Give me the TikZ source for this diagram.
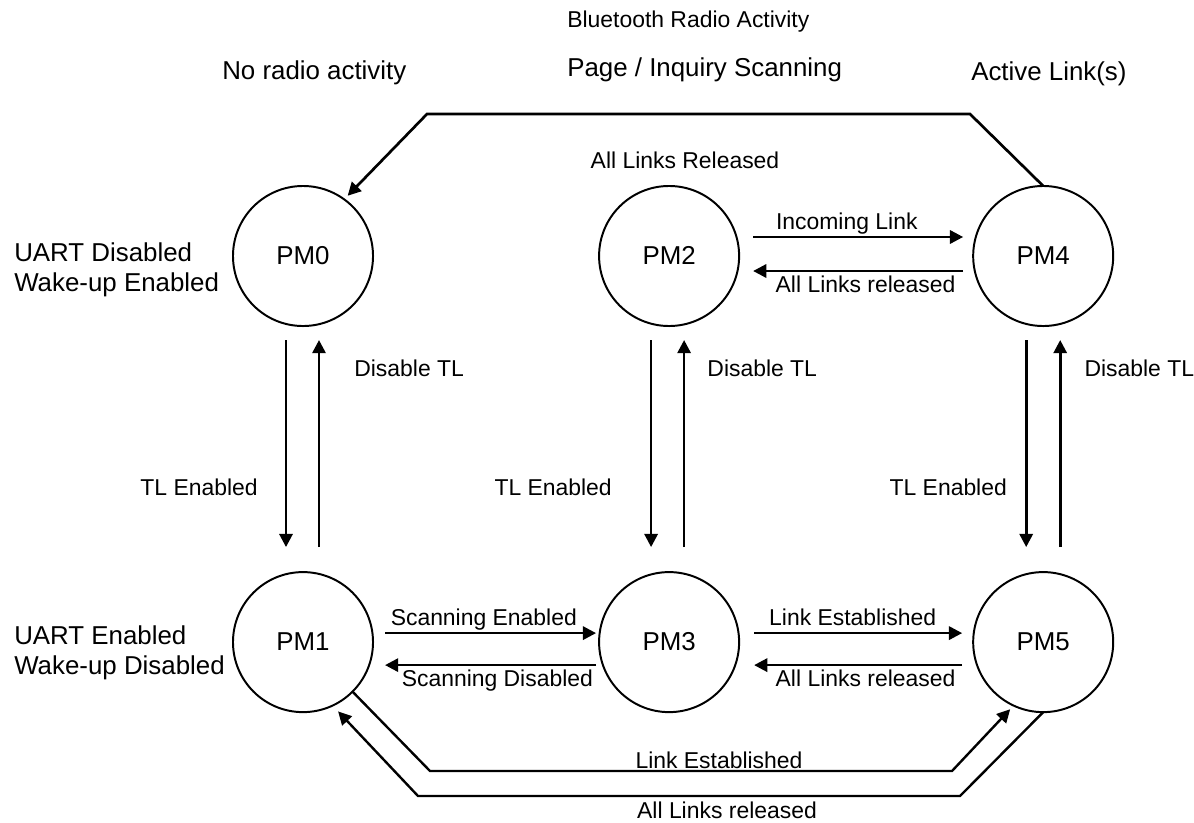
\documentclass[tikz,border=0pt]{standalone}
\usepackage{fontspec}
\setmainfont{Liberation Sans}
\usetikzlibrary{arrows.meta}
\usetikzlibrary{positioning}

\begin{document}
\begin{tikzpicture}[%
        x=0.025cm, y=-0.025cm,
        every node/.style={font=\fontsize{16.3}{15}\selectfont, inner sep=0pt},
        big/.style={font=\fontsize{18.4}{21}\selectfont},
        state/.style={circle, draw, line width=1.4pt, minimum size=3.5cm, outer sep=0pt,
          big, text height=1.2em, text depth=0pt},
        lbl/.style={text height=0.72em, text depth=0.21em},
        trans/.style={->, line width=1.9pt},
        route/.style={->, line width=1.7pt},
        >={Triangle[length=3.3mm,width=3.3mm]}
      ]
      \useasboundingbox (0,0) rectangle (1194,822);
      % power modes
      \node [state] (pm0) at (303,256) {PM0};
      \node [state] (pm1) [below=6.15cm of pm0] {PM1};
      \node [state] (pm2) [right=5.65cm of pm0] {PM2};
      \node [state] (pm3) [below=6.15cm of pm2] {PM3};
      \node [state] (pm4) [right=5.85cm of pm2] {PM4};
      \node [state] (pm5) [below=6.15cm of pm4] {PM5};
      % headings
      \node (hdBt) [anchor=west] at (567,22) {Bluetooth Radio Activity};
      \node (hdNone) [big, anchor=west] at (222,73) {No radio activity};
      \node (hdScan) [big, anchor=west] at (567,70) {Page / Inquiry Scanning};
      \node (hdLink) [big, anchor=west] at (971,74) {Active Link(s)};
      \node (uartOff) [big, anchor=west, align=left] at (14,270) {UART Disabled\\Wake-up Enabled};
      \node (uartOn) [big, anchor=west, align=left] at (14,653) {UART Enabled\\Wake-up Disabled};
      % TL enable / disable
      \draw [trans, shorten <=0.35cm, shorten >=0.625cm] ([xshift=-0.425cm]pm0.south) -- ([xshift=-0.425cm]pm1.north)
        node [lbl, pos=.673, left=0.675cm] {TL Enabled};
      \draw [trans, shorten <=0.625cm, shorten >=0.35cm] ([xshift=0.4cm]pm1.north) -- ([xshift=0.4cm]pm0.south)
        node [lbl, pos=.81, right=0.85cm] {Disable TL};
      \draw [trans, shorten <=0.35cm, shorten >=0.625cm] ([xshift=-0.45cm]pm2.south) -- ([xshift=-0.45cm]pm3.north)
        node [lbl, pos=.673, left=0.95cm] {TL Enabled};
      \draw [trans, shorten <=0.625cm, shorten >=0.35cm] ([xshift=0.375cm]pm3.north) -- ([xshift=0.375cm]pm2.south)
        node [lbl, pos=.81, right=0.55cm] {Disable TL};
      \draw [trans, shorten <=0.35cm, shorten >=0.625cm] ([xshift=-0.425cm]pm4.south) -- ([xshift=-0.425cm]pm5.north)
        node [lbl, pos=.673, left=0.45cm] {TL Enabled};
      \draw [trans, shorten <=0.625cm, shorten >=0.35cm] ([xshift=0.425cm]pm5.north) -- ([xshift=0.425cm]pm4.south)
        node [lbl, pos=.81, right=0.575cm] {Disable TL};
      % links between neighbours
      \draw [trans, shorten <=0.35cm, shorten >=0.25cm] ([yshift=0.475cm]pm2.east) -- ([yshift=0.475cm]pm4.west)
        node [lbl, pos=.46, above=0.075cm] {Incoming Link};
      \draw [trans, shorten <=0.25cm, shorten >=0.35cm] ([yshift=-0.375cm]pm4.west) -- ([yshift=-0.375cm]pm2.east)
        node [lbl, pos=.46, below=0.24cm] {All Links released};
      \draw [trans, shorten <=0.3cm, shorten >=0.075cm] ([yshift=0.225cm]pm1.east) -- ([yshift=0.225cm]pm3.west)
        node [lbl, pos=.49, above=0.075cm] {Scanning Enabled};
      \draw [trans, shorten <=0.075cm, shorten >=0.3cm] ([yshift=-0.575cm]pm3.west) -- ([yshift=-0.575cm]pm1.east)
        node [lbl, pos=.45, below=0.24cm] {Scanning Disabled};
      \draw [trans, shorten <=0.375cm, shorten >=0.275cm] ([yshift=0.225cm]pm3.east) -- ([yshift=0.225cm]pm5.west)
        node [lbl, pos=.485, above=0.075cm] {Link Established};
      \draw [trans, shorten <=0.275cm, shorten >=0.375cm] ([yshift=-0.575cm]pm5.west) -- ([yshift=-0.575cm]pm3.east)
        node [lbl, pos=.46, below=0.24cm] {All Links released};
      % long routes
      \coordinate (topR) at (970,114);
      \coordinate (topL) at (427,114);
      \draw [trans, shorten >=0.125cm] (pm4.north) -- (topR) -- (topL) -- (pm0.54);
      \node (relTop) at (685,160) {All Links Released};
      \coordinate (estL) at (430,771);
      \coordinate (estR) at (952,771);
      \draw [route, shorten >=0.125cm] (pm1.-45) -- (estL) -- (estR) -- (pm5.245);
      \node (estBot) at (719,760) {Link Established};
      \coordinate (relR) at (960,796);
      \coordinate (relL) at (418,796);
      \draw [route, shorten >=0.2cm] (pm5.south) -- (relR) -- (relL) -- (pm1.-65);
      \node (relBot) at (727,810) {All Links released};
    \end{tikzpicture}
\end{document}
